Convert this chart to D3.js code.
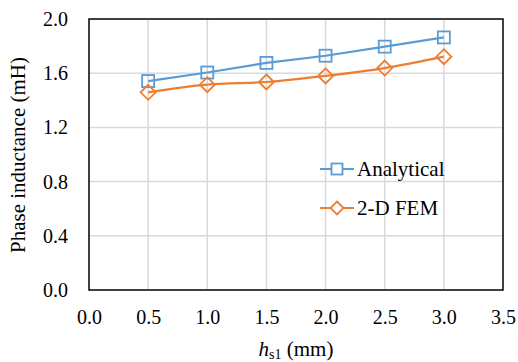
<!DOCTYPE html>
<html><head><meta charset="utf-8">
<script src="https://cdn.jsdelivr.net/npm/d3@7"></script>
</head><body style="margin:0">
<svg id="c" width="518" height="362"></svg>
<script>
const xValues = [0.5, 1.0, 1.5, 2.0, 2.5, 3.0];
const analytical = [1.542, 1.605, 1.676, 1.729, 1.796, 1.864];
const fem = [1.459, 1.515, 1.535, 1.580, 1.638, 1.722];
const xTicks = [0, 0.5, 1.0, 1.5, 2.0, 2.5, 3.0, 3.5];
const yTicks = [0, 0.4, 0.8, 1.2, 1.6, 2.0];
const seriesNames = ["Analytical", "2-D FEM"];

const FONT = "Liberation Serif";
const svg = d3.select("#c");
const m = {l: 89, t: 19, r: 503, b: 290};
const x = d3.scaleLinear().domain([0, 3.5]).range([m.l, m.r]);
const y = d3.scaleLinear().domain([0, 2.0]).range([m.b, m.t]);
const blue = "#5B9BD5", orange = "#ED7D31";

// grid
svg.append("g").selectAll("line").data(xTicks.slice(1, -1)).join("line")
  .attr("x1", d => x(d)).attr("x2", d => x(d)).attr("y1", m.t).attr("y2", m.b)
  .attr("stroke", "#d9d9d9").attr("stroke-width", 1.5);
svg.append("g").selectAll("line").data(yTicks.slice(1, -1)).join("line")
  .attr("y1", d => y(d)).attr("y2", d => y(d)).attr("x1", m.l).attr("x2", m.r)
  .attr("stroke", "#d9d9d9").attr("stroke-width", 1.5);

// border
svg.append("rect").attr("x", m.l).attr("y", m.t).attr("width", m.r - m.l).attr("height", m.b - m.t)
  .attr("fill", "none").attr("stroke", "#000").attr("stroke-width", 1.5);

// axes (labels only)
const xAxis = svg.append("g").attr("transform", `translate(0,${m.b})`)
  .call(d3.axisBottom(x).tickValues(xTicks).tickFormat(d3.format(".1f")).tickSize(0).tickPadding(20));
xAxis.attr("font-family", FONT).attr("font-size", 20);
xAxis.select(".domain").remove();
xAxis.selectAll("text").attr("font-family", FONT).attr("font-size", 20).attr("fill", "#000");
const yAxis = svg.append("g").attr("transform", `translate(${m.l},0)`)
  .call(d3.axisLeft(y).tickValues(yTicks).tickFormat(d3.format(".1f")).tickSize(0).tickPadding(21));
yAxis.attr("font-family", FONT).attr("font-size", 20);
yAxis.select(".domain").remove();
yAxis.selectAll("text").attr("font-family", FONT).attr("font-size", 20).attr("fill", "#000");

// lines
const lineA = d3.line().x((d, i) => x(xValues[i])).y(d => y(d));
const lineF = d3.line().x((d, i) => x(xValues[i])).y(d => y(d)).curve(d3.curveCatmullRom.alpha(0.5));
svg.append("path").attr("d", lineA(analytical)).attr("fill", "none").attr("stroke", blue).attr("stroke-width", 2.2);
svg.append("path").attr("d", lineF(fem)).attr("fill", "none").attr("stroke", orange).attr("stroke-width", 2.2);

// markers
const sq = 12;
svg.append("g").selectAll("rect").data(analytical).join("rect")
  .attr("x", (d, i) => x(xValues[i]) - sq / 2).attr("y", d => y(d) - sq / 2)
  .attr("width", sq).attr("height", sq).attr("fill", "none").attr("stroke", blue).attr("stroke-width", 1.8);
const dm = 7.5;
svg.append("g").selectAll("path").data(fem).join("path")
  .attr("d", (d, i) => { const cx = x(xValues[i]), cy = y(d); return `M${cx},${cy - dm}L${cx + dm},${cy}L${cx},${cy + dm}L${cx - dm},${cy}Z`; })
  .attr("fill", "none").attr("stroke", orange).attr("stroke-width", 1.8);

// legend
const leg = svg.append("g");
const legRows = [{name: seriesNames[0], color: blue, type: "sq", y: 169}, {name: seriesNames[1], color: orange, type: "dm", y: 208}];
legRows.forEach(r => {
  leg.append("line").attr("x1", 320).attr("x2", 354).attr("y1", r.y).attr("y2", r.y).attr("stroke", r.color).attr("stroke-width", 2.2);
  if (r.type === "sq") {
    leg.append("rect").attr("x", 337 - 5.5).attr("y", r.y - 5.5).attr("width", 11).attr("height", 11).attr("fill", "#fff").attr("stroke", r.color).attr("stroke-width", 1.8);
  } else {
    const c = 337, s = 6.5;
    leg.append("path").attr("d", `M${c},${r.y - s}L${c + s},${r.y}L${c},${r.y + s}L${c - s},${r.y}Z`).attr("fill", "#fff").attr("stroke", r.color).attr("stroke-width", 1.8);
  }
  leg.append("text").attr("x", 357).attr("y", r.y + 7).attr("font-family", FONT).attr("font-size", 21).text(r.name);
});

// axis titles
const xt = svg.append("text").attr("x", 296).attr("y", 356).attr("text-anchor", "middle").attr("font-family", FONT).attr("font-size", 21);
xt.append("tspan").attr("font-style", "italic").text("h");
xt.append("tspan").attr("dy", 3).attr("font-size", 14).text("s1");
xt.append("tspan").attr("dy", -3).text(" (mm)");
svg.append("text").attr("transform", "translate(25,155) rotate(-90)").attr("text-anchor", "middle")
  .attr("font-family", FONT).attr("font-size", 21).text("Phase inductance (mH)");
</script>
</body></html>
